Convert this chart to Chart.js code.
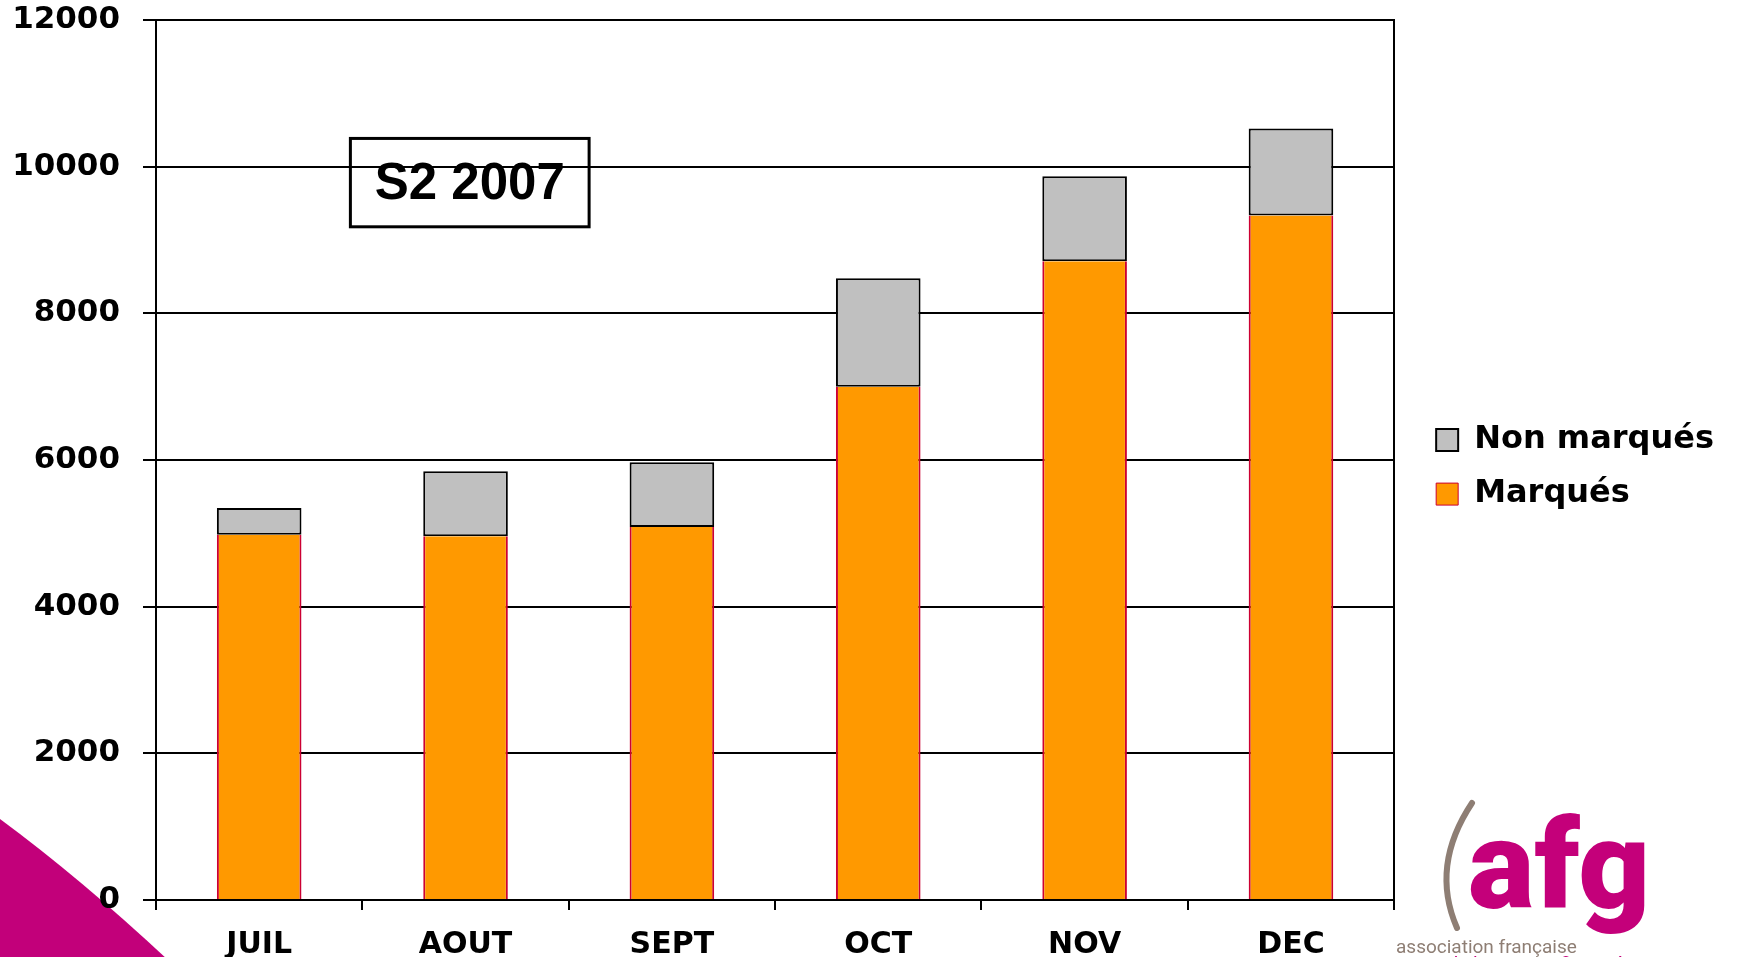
<!DOCTYPE html>
<html>
<head>
<meta charset="utf-8">
<script src="https://cdn.jsdelivr.net/npm/chart.js@4.4.0/dist/chart.umd.min.js"></script>
<style>
html, body { margin: 0; padding: 0; background: #fff; overflow: hidden; }
#wrap { width: 1751px; height: 957px; overflow: hidden; }
</style>
</head>
<body>
<div id="wrap"><canvas id="myGraficoAfg" width="1751" height="990"></canvas></div>
<script>
// donnees
var mois = ["JUIL", "AOUT", "SEPT", "OCT", "NOV", "DEC"];
var marques = [4980, 4960, 5085, 7000, 8710, 9335];
var nonMarques = [365, 885, 885, 1480, 1160, 1185];
var yMin = 0, yMax = 12000, yPas = 2000;
var titre = "S2 2007";

var police = "'DejaVu Sans', Verdana, sans-serif";

var decor = {
    id: 'decor',
    beforeDraw: function(chart) {
        var ctx = chart.ctx;
        ctx.save();
        ctx.fillStyle = "#fff";
        ctx.fillRect(0, 0, chart.width, chart.height);
        // coin rose en bas a gauche
        ctx.fillStyle = "#C2007A";
        ctx.beginPath();
        ctx.moveTo(0, 819);
        ctx.quadraticCurveTo(80, 878, 168, 960);
        ctx.lineTo(0, 960);
        ctx.closePath();
        ctx.fill();
        ctx.restore();
    },
    afterDraw: function(chart) {
        var ctx = chart.ctx;
        var a = chart.chartArea;
        var y = chart.scales.y;
        // cadre "S2 2007"
        var x0 = a.left + 0.157 * (a.right - a.left);
        var x1 = a.left + 0.3498 * (a.right - a.left);
        var y0 = y.getPixelForValue(10385);
        var y1 = y.getPixelForValue(9180);
        ctx.save();
        ctx.strokeStyle = "#000";
        ctx.lineWidth = 3;
        ctx.strokeRect(x0, y0, x1 - x0, y1 - y0);
        ctx.fillStyle = "#000";
        ctx.font = "bold 51px 'Liberation Sans', Arial, sans-serif";
        ctx.textAlign = "center";
        ctx.textBaseline = "middle";
        ctx.fillText(titre, (x0 + x1) / 2, (y0 + y1) / 2 + 2);

        // logo afg
        ctx.strokeStyle = "#8E7E74";
        ctx.lineWidth = 6;
        ctx.lineCap = "round";
        ctx.beginPath();
        ctx.moveTo(1472, 803);
        ctx.quadraticCurveTo(1430, 866, 1457, 928);
        ctx.stroke();
        ctx.fillStyle = "#C4007A";
        ctx.font = "900 125px Roboto, sans-serif";
        ctx.textAlign = "left";
        ctx.textBaseline = "alphabetic";
        ctx.fillText("afg", 1468, 908);
        ctx.fillStyle = "#8E7E74";
        ctx.font = "19px Roboto, sans-serif";
        ctx.fillText("association française", 1396, 953);
        ctx.fillStyle = "#C4007A";
        ctx.textAlign = "right";
        ctx.fillText("de la gestion financière", 1643, 970);
        ctx.restore();
    }
};

var ctx = document.getElementById('myGraficoAfg').getContext('2d');
var chart = new Chart(ctx, {
    type: 'bar',
    data: {
        labels: mois,
        datasets: [{
            label: 'Marqués',
            data: marques,
            backgroundColor: "#FF9900",
            borderColor: "#CC0033",
            borderWidth: {left: 2, right: 2, top: 0, bottom: 0},
            categoryPercentage: 1,
            barPercentage: 0.41
        }, {
            label: 'Non marqués',
            data: nonMarques,
            backgroundColor: "#C0C0C0",
            borderColor: "#000",
            borderWidth: 2,
            borderSkipped: false,
            categoryPercentage: 1,
            barPercentage: 0.41
        }]
    },
    options: {
        responsive: false,
        animation: false,
        devicePixelRatio: 1,
        layout: { padding: { top: 0, right: 27, bottom: 0, left: 0 } },
        scales: {
            x: {
                stacked: true,
                afterFit: function(s) { s.height = 90; },
                grid: { drawOnChartArea: false, drawTicks: true, tickLength: 10, color: "#000", lineWidth: 2, offset: true },
                border: { color: "#000", width: 2 },
                ticks: { color: "#000", padding: 17, font: { family: police, size: 30, weight: 'bold' } }
            },
            y: {
                stacked: true,
                min: yMin,
                max: yMax,
                afterFit: function(s) { s.width = 156; s.paddingTop = 20; s.paddingBottom = 0; },
                grid: { color: "#000", lineWidth: 2, tickLength: 13 },
                border: { color: "#000", width: 2 },
                ticks: {
                    stepSize: yPas, color: "#000", padding: 23,
                    font: { family: police, size: 31, weight: 'bold' },
                    callback: function(v) { return String(v); }
                }
            },
            y2: {
                position: 'right',
                min: yMin,
                max: yMax,
                afterFit: function(s) { s.width = 20; s.paddingTop = 0; s.paddingBottom = 0; },
                grid: { drawOnChartArea: false, drawTicks: false },
                border: { color: "#000", width: 2 },
                ticks: { display: false }
            }
        },
        plugins: {
            legend: {
                position: 'right',
                fullSize: false,
                reverse: true,
                maxWidth: 500,
                title: { display: true, text: '', font: { size: 1 }, padding: { top: 6, bottom: 7 } },
                labels: {
                    color: "#000",
                    boxWidth: 22,
                    boxHeight: 22,
                    padding: 22,
                    font: { family: police, size: 32, weight: 'bold' }
                }
            },
            tooltip: { enabled: false }
        }
    },
    plugins: [decor]
});
</script>
</body>
</html>
